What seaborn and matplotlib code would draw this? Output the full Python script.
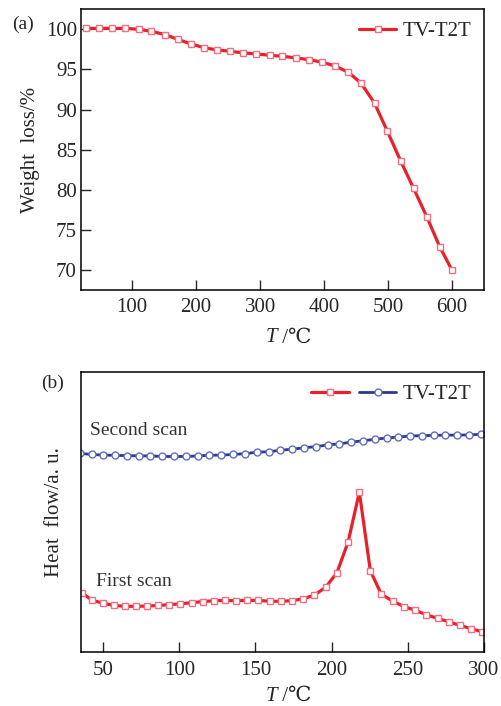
import numpy as np
import pandas as pd
import seaborn as sns
import matplotlib
matplotlib.use("Agg")
import matplotlib.pyplot as plt
from matplotlib.legend_handler import HandlerTuple
from matplotlib.lines import Line2D

# TGA curve (a)
tga_T = [28, 48, 69, 89, 110, 130, 151, 171, 192, 212, 233, 253, 274, 294, 315,
         335, 356, 376, 397, 417, 438, 458, 479, 499, 520, 540, 561, 581, 600]
tga_w = [100.1, 100.1, 100.1, 100.1, 100.0, 99.75, 99.34, 98.75, 98.17, 97.71,
         97.42, 97.26, 97.05, 96.93, 96.76, 96.63, 96.43, 96.22, 95.89, 95.43,
         94.64, 93.27, 90.77, 87.29, 83.55, 80.18, 76.57, 72.87, 70.0]

# DSC first scan (b), red
first_T = [36.0, 42.6, 50.0, 57.0, 64.4, 71.7, 78.9, 86.3, 93.5, 100.7, 108.2,
           115.6, 122.8, 130.3, 137.5, 144.7, 151.9, 159.6, 166.8, 174.0, 181.5,
           188.7, 196.1, 203.5, 210.8, 218.2, 225.4, 232.6, 240.3, 247.5, 254.9,
           262.2, 269.6, 276.8, 284.3, 291.7, 298.5]
first_hf = [21.3, 18.6, 17.5, 16.7, 16.4, 16.4, 16.5, 16.7, 17.0, 17.3, 17.7,
            18.1, 18.4, 18.5, 18.4, 18.5, 18.5, 18.2, 18.2, 18.4, 19.1,
            20.4, 23.2, 28.4, 39.3, 57.1, 29.1, 20.7, 18.2, 16.3, 15.0,
            13.4, 12.1, 10.9, 9.6, 8.4, 7.4]

# DSC second scan (b), blue
second_T = [34.9, 42.6, 50.2, 57.9, 65.5, 73.4, 81.1, 88.9, 96.6, 104.5, 112.1,
            119.8, 127.6, 135.3, 143.2, 150.8, 158.7, 166.4, 174.2, 181.9, 189.5,
            197.4, 205.1, 212.9, 220.6, 228.3, 236.1, 243.8, 251.4, 259.3, 267.0,
            274.6, 282.5, 290.2, 298.0]
second_hf = [70.9, 70.5, 70.3, 70.2, 70.1, 70.0, 70.0, 69.8, 69.8, 69.8, 70.0,
             70.2, 70.3, 70.5, 70.8, 71.3, 71.5, 72.0, 72.4, 72.9, 73.3,
             73.9, 74.3, 74.9, 75.4, 75.9, 76.4, 76.7, 77.1, 77.2, 77.3,
             77.4, 77.4, 77.5, 77.7]

RED = "#e8202a"
RED_EDGE = "#f07080"
BLUE = "#2b3990"
BLUE_EDGE = "#6070c0"

sns.set_style("ticks")
FAM = ["Liberation Serif", "DejaVu Serif", "DejaVu Sans"]
plt.rcParams["font.family"] = FAM
FS = 15

fig = plt.figure(figsize=(5.01, 7.06), dpi=100)
ax1 = fig.add_axes([0.1617, 0.589, 0.8043, 0.398])
ax2 = fig.add_axes([0.1617, 0.076, 0.8043, 0.3975])


def t_label(ax, y):
    # italic T followed by upright "/℃"
    t = ax.text(0.486, y, "T", style="italic", fontsize=FS, ha="right", va="center",
                transform=ax.transAxes)
    ax.annotate(" /℃", xy=(1.0, 0.5), xycoords=t, fontsize=FS, ha="left", va="center",
                family=FAM)


# ---- panel (a)
red_kw = dict(color=RED, linewidth=2.3, marker="s", markersize=5,
              markerfacecolor="white", markeredgecolor=RED_EDGE, markeredgewidth=1.0)
sns.lineplot(x=tga_T, y=tga_w, ax=ax1, label="TV-T2T", **red_kw)
ax1.set_xlim(20, 650)
ax1.set_ylim(67.5, 102.5)
ax1.set_xticks([100, 200, 300, 400, 500, 600])
ax1.set_yticks([70, 75, 80, 85, 90, 95, 100])
ax1.set_xlabel("")
t_label(ax1, -0.17)
ax1.set_ylabel("Weight  loss/%", fontsize=FS, labelpad=4)
ax1.legend(loc="upper right", frameon=False, fontsize=FS, handlelength=1.8,
           handletextpad=0.3, borderaxespad=0.2)
ax1.text(-0.17, 0.945, "(a)", transform=ax1.transAxes, fontsize=FS - 1, va="center")

# ---- panel (b)
blue_kw = dict(color=BLUE, linewidth=2.0, marker="o", markersize=5,
               markerfacecolor="white", markeredgecolor=BLUE_EDGE, markeredgewidth=1.0)
sns.lineplot(x=first_T, y=first_hf, ax=ax2, legend=False, **red_kw)
sns.lineplot(x=second_T, y=second_hf, ax=ax2, legend=False, **blue_kw)
ax2.set_xlim(35.5, 300)
ax2.set_ylim(0, 100)
ax2.set_xticks([50, 100, 150, 200, 250, 300])
ax2.set_yticks([])
ax2.set_xlabel("")
t_label(ax2, -0.158)
ax2.set_ylabel("Heat  flow/a. u.", fontsize=FS, labelpad=12)
ax2.text(41.5, 78.9, "Second scan", fontsize=FS - 1, va="center", color="#333333")
ax2.text(45.2, 25.2, "First scan", fontsize=FS - 1, va="center", color="#333333")
h_red = Line2D([], [], **red_kw)
h_blue = Line2D([], [], **blue_kw)
ax2.legend([(h_red, h_blue)], ["TV-T2T"], handler_map={tuple: HandlerTuple(ndivide=None, pad=0.5)},
           loc="upper right", frameon=False, fontsize=FS, handlelength=4.1,
           handletextpad=0.3, borderaxespad=0.2)
ax2.text(-0.1, 0.96, "(b)", transform=ax2.transAxes, fontsize=FS - 1, va="center")

for ax in (ax1, ax2):
    for s in ax.spines.values():
        s.set_visible(True)
        s.set_linewidth(1.1)
        s.set_color("black")
    ax.tick_params(direction="in", length=7, width=1.0, labelsize=FS, pad=6,
                   top=False, right=False)
    ax.tick_params(axis="y", pad=3)
ax2.tick_params(axis="y", left=False)

fig.savefig("out.png", dpi=100)
